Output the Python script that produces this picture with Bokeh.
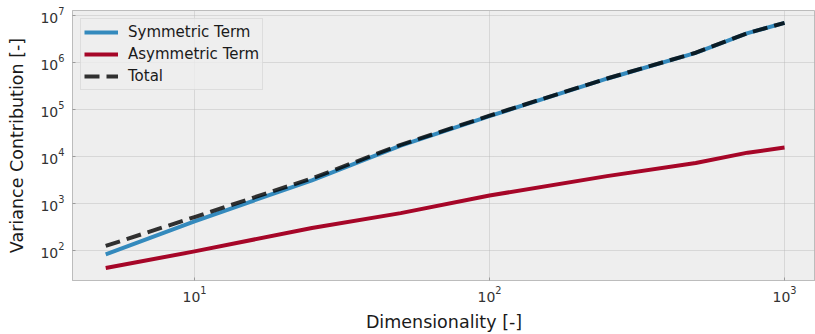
from bokeh.plotting import figure
from bokeh.models import Range1d, FixedTicker, Legend, LegendItem
from bokeh.embed import file_html
from bokeh.resources import INLINE

# data
dimensions = [5, 10, 25, 50, 100, 250, 500, 750, 1000]
symmetric = [82, 416, 3100, 17000, 72000, 450000, 1600000, 4200000, 6950000]
asymmetric = [42, 95, 300, 620, 1470, 3800, 7200, 12000, 15400]
total = [124, 511, 3400, 17620, 73470, 453800, 1607200, 4212000, 6965400]

x_ticks = [10, 100, 1000]
y_ticks = [1e2, 1e3, 1e4, 1e5, 1e6, 1e7]

FONT = "DejaVu Sans"

p = figure(width=815, height=334, x_axis_type="log", y_axis_type="log",
           x_range=Range1d(10 ** 0.5864, 10 ** 3.105),
           y_range=Range1d(10 ** 1.358, 10 ** 7.105),
           output_backend="svg", toolbar_location=None,
           min_border_left=72, min_border_right=0, min_border_top=10,
           min_border_bottom=51)

p.background_fill_color = "#eeeeee"
p.border_fill_color = "white"
p.outline_line_color = "#bcbcbc"
p.outline_line_width = 1

p.xaxis.ticker = FixedTicker(ticks=x_ticks, minor_ticks=[])
p.yaxis.ticker = FixedTicker(ticks=y_ticks, minor_ticks=[])

p.grid.grid_line_color = "#b2b2b2"
p.grid.grid_line_dash = "1 1"
p.grid.grid_line_width = 0.8

for ax in (p.xaxis, p.yaxis):
    ax.axis_line_color = "#bcbcbc"
    ax.major_tick_in = 3
    ax.major_tick_out = 0
    ax.major_tick_line_color = "#9a9a9a"
    ax.minor_tick_line_color = None
    ax.major_label_text_font = FONT
    ax.major_label_text_font_size = "14px"
    ax.major_label_text_color = "#333333"
    ax.axis_label_text_font = FONT
    ax.axis_label_text_font_style = "normal"
    ax.axis_label_text_font_size = "17.5px"
    ax.axis_label_text_color = "#1a1a1a"

p.xaxis.axis_label = "Dimensionality [-]"
p.yaxis.axis_label = "Variance Contribution [-]"
p.xaxis.major_label_standoff = 5
p.xaxis.axis_label_standoff = 7
p.yaxis.major_label_standoff = 8
p.yaxis.axis_label_standoff = 10

r_sym = p.line(dimensions, symmetric, line_color="#348ABD", line_width=4, line_join="round")
r_asym = p.line(dimensions, asymmetric, line_color="#A60628", line_width=4, line_join="round")
r_tot = p.line(dimensions, total, line_color="black", line_alpha=0.8, line_width=4,
               line_dash="15 7", line_join="round")

legend = Legend(items=[
    LegendItem(label="Symmetric Term", renderers=[r_sym]),
    LegendItem(label="Asymmetric Term", renderers=[r_asym]),
    LegendItem(label="Total", renderers=[r_tot]),
], location="top_left")
legend.margin = 8
legend.padding = 3
legend.spacing = 2
legend.glyph_width = 34
legend.glyph_height = 20
legend.label_standoff = 10
legend.label_height = 20
legend.label_text_font = FONT
legend.label_text_font_size = "15px"
legend.label_text_color = "#1a1a1a"
legend.background_fill_color = "#eeeeee"
legend.background_fill_alpha = 0.8
legend.border_line_color = "#cccccc"
legend.border_line_width = 1
p.add_layout(legend)

open("out.html", "w").write(file_html(p, INLINE))
